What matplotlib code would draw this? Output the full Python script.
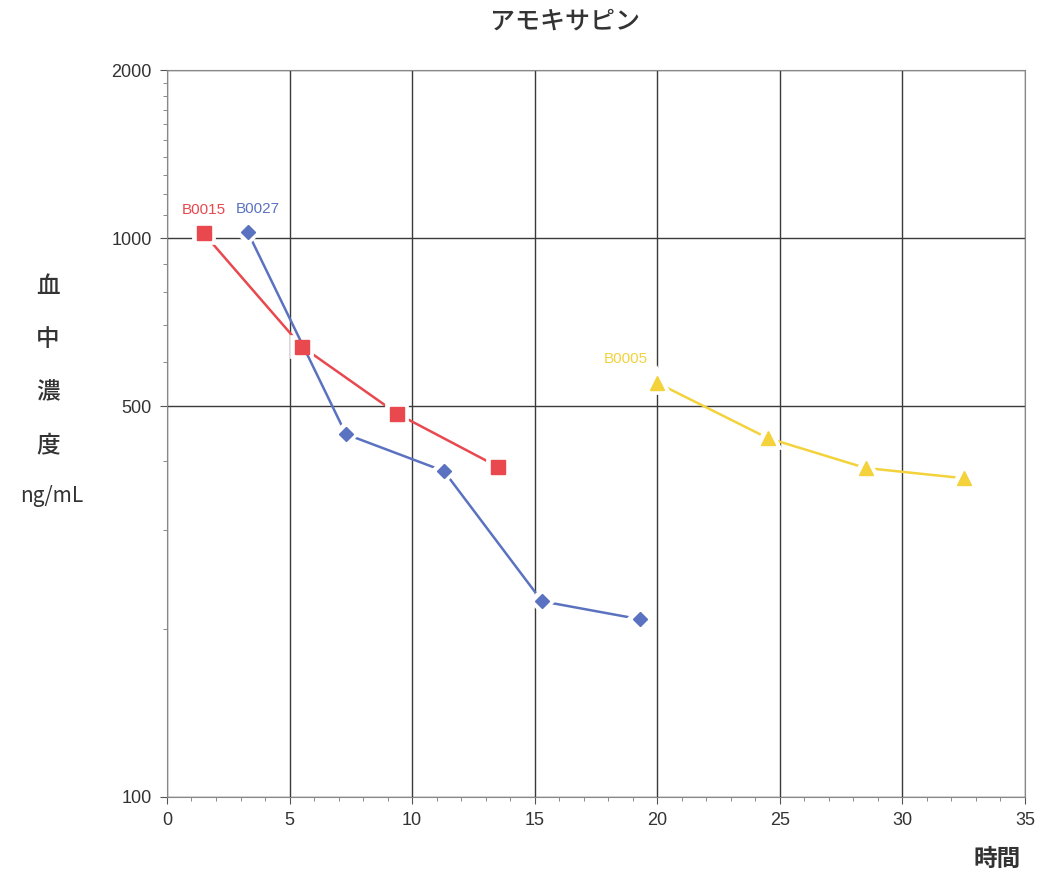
import matplotlib
matplotlib.use("Agg")
import matplotlib.pyplot as plt
from matplotlib.ticker import FixedLocator, NullFormatter, MultipleLocator

plt.rcParams['font.family'] = ['Noto Sans CJK JP', 'DejaVu Sans']

# data (time in h, concentration in ng/mL)
b0015_t = [1.5, 5.5, 9.4, 13.5]
b0015_c = [1020, 640, 485, 390]
b0027_t = [3.3, 7.3, 11.3, 15.3, 19.3]
b0027_c = [1025, 446, 383, 224, 208]
b0005_t = [20.0, 24.5, 28.5, 32.5]
b0005_c = [551, 439, 388, 372]
y_ticks = [100, 500, 1000, 2000]
x_ticks = [0, 5, 10, 15, 20, 25, 30, 35]

red = "#e8484e"
blue = "#5a72c0"
yellow = "#f3d23c"

fig = plt.figure(figsize=(10.41, 8.76), dpi=100)
ax = fig.add_axes([0.1604, 0.0902, 0.8242, 0.8298])

ax.set_yscale("log")
ax.set_xlim(0, 35)
ax.set_ylim(100, 2000)

series = [
    ("B0015", b0015_t, b0015_c, red, "s", 10, "center", 0.0),
    ("B0027", b0027_t, b0027_c, blue, "D", 7.5, "left", -0.5),
    ("B0005", b0005_t, b0005_c, yellow, "^", 10, "right", -0.4),
]
for name, t, c, col, mk, ms, ha, dx in series:
    # white halo around the markers breaks the line like in the original
    ax.plot(t, c, color=col, lw=1.8, marker=mk, ms=ms,
            markerfacecolor="white", markeredgecolor="white", markeredgewidth=7, zorder=3)
    ax.plot(t, c, ls="none", marker=mk, ms=ms, color=col, zorder=4)
    ax.text(t[0] + dx, c[0] * 1.07, name, color=col, fontsize=11,
            ha=ha, va="bottom", family=["Liberation Sans", "DejaVu Sans"])

ax.yaxis.set_major_locator(FixedLocator(y_ticks))
ax.yaxis.set_minor_locator(FixedLocator([200, 300, 400, 600, 700, 800, 900,
                                         1100, 1200, 1300, 1400, 1500, 1600, 1700, 1800, 1900]))
ax.yaxis.set_minor_formatter(NullFormatter())
ax.set_yticklabels([str(v) for v in y_ticks])
ax.xaxis.set_major_locator(FixedLocator(x_ticks))
ax.xaxis.set_minor_locator(MultipleLocator(1))

tick_font = ["Liberation Sans Narrow", "Liberation Sans", "DejaVu Sans"]
for lab in ax.get_xticklabels() + ax.get_yticklabels():
    lab.set_family(tick_font)
    lab.set_fontsize(13)
    lab.set_color("#333333")

ax.tick_params(which="major", direction="out", length=5, color="#555555", pad=6)
ax.tick_params(which="minor", direction="out", length=3, color="#777777")

ax.grid(True, which="major", color="#3a3a3a", lw=1.0)
for s in ax.spines.values():
    s.set_color("#888888")
    s.set_linewidth(0.8)
ax.set_axisbelow(True)

fig.text(0.543, 0.975, "アモキサピン", ha="center", va="center", fontsize=18,
         color="#333333", fontweight="medium")
for i, ch in enumerate("血中濃度"):
    fig.text(0.046, 1 - (287 + i * 53) / 876, ch, ha="center", va="center",
             fontsize=17, color="#333333", fontweight="medium")
fig.text(0.05, 1 - 496 / 876, "ng/mL", ha="center", va="center", fontsize=15, color="#333333")
fig.text(0.958, 1 - 859 / 876, "時間", ha="center", va="center", fontsize=17,
         color="#333333", fontweight="bold")

fig.savefig("out.png", dpi=100)
